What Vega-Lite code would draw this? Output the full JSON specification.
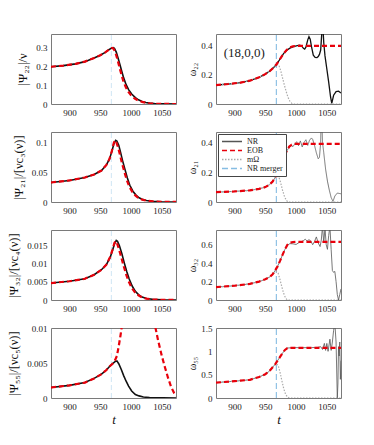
{
  "$schema": "https://vega.github.io/schema/vega-lite/v6.json",
  "background": "white",
  "padding": {"top": 33, "left": 7, "right": 28, "bottom": 20},
  "bounds": "flush",
  "columns": 2,
  "spacing": {"row": 28, "column": 40},
  "resolve": {"scale": {"color": "independent", "strokeDash": "independent"}, "legend": {"color": "independent", "strokeDash": "independent"}},
  "config": {
    "font": "Liberation Serif",
    "view": {"stroke": "#7a7a7a", "strokeWidth": 1},
    "axis": {"labelFont": "Liberation Serif", "labelFontSize": 9, "labelColor": "#222", "titleFont": "Liberation Serif", "titleFontWeight": "normal", "titleColor": "#111", "domain": false, "grid": false, "ticks": false, "labelPadding": 4, "labelOverlap": false, "labelFlush": false, "labelBound": false, "labelExpr": "'' + datum.value"}
  },
  "datasets": {
    "merger": [{"t": 968, "v": 0, "top": 100, "s": "NR merger"}],
    "ann": [{"t": 916, "v": 0.348, "label": "(18,0,0)"}],
    "A1": [
      {"s":"NR","t":870,"v":0.197},{"s":"NR","t":890,"v":0.203},{"s":"NR","t":910,"v":0.212},{"s":"NR","t":925,"v":0.224},{"s":"NR","t":940,"v":0.243},{"s":"NR","t":950,"v":0.258},{"s":"NR","t":958,"v":0.273},{"s":"NR","t":964,"v":0.287},{"s":"NR","t":968,"v":0.295},{"s":"NR","t":971,"v":0.298},{"s":"NR","t":973,"v":0.294},{"s":"NR","t":976,"v":0.274},{"s":"NR","t":979,"v":0.242},{"s":"NR","t":982,"v":0.207},{"s":"NR","t":985,"v":0.172},{"s":"NR","t":988,"v":0.138},{"s":"NR","t":992,"v":0.102},{"s":"NR","t":996,"v":0.076},{"s":"NR","t":1001,"v":0.053},{"s":"NR","t":1007,"v":0.034},{"s":"NR","t":1012,"v":0.022},{"s":"NR","t":1018,"v":0.013},{"s":"NR","t":1024,"v":0.008},{"s":"NR","t":1030,"v":0.0045},{"s":"NR","t":1040,"v":0.0017},{"s":"NR","t":1055,"v":0.0004},{"s":"NR","t":1073,"v":0},
      {"s":"EOB","t":870,"v":0.197},{"s":"EOB","t":890,"v":0.203},{"s":"EOB","t":910,"v":0.212},{"s":"EOB","t":925,"v":0.224},{"s":"EOB","t":940,"v":0.243},{"s":"EOB","t":950,"v":0.258},{"s":"EOB","t":958,"v":0.273},{"s":"EOB","t":964,"v":0.287},{"s":"EOB","t":968,"v":0.295},{"s":"EOB","t":970,"v":0.296},{"s":"EOB","t":972,"v":0.29},{"s":"EOB","t":975,"v":0.268},{"s":"EOB","t":978,"v":0.234},{"s":"EOB","t":981,"v":0.197},{"s":"EOB","t":984,"v":0.16},{"s":"EOB","t":987,"v":0.126},{"s":"EOB","t":991,"v":0.092},{"s":"EOB","t":995,"v":0.067},{"s":"EOB","t":1000,"v":0.046},{"s":"EOB","t":1006,"v":0.029},{"s":"EOB","t":1012,"v":0.018},{"s":"EOB","t":1018,"v":0.011},{"s":"EOB","t":1024,"v":0.0065},{"s":"EOB","t":1030,"v":0.0038},{"s":"EOB","t":1040,"v":0.0014},{"s":"EOB","t":1055,"v":0.0003},{"s":"EOB","t":1073,"v":0}
    ],
    "A2": [
      {"s":"NR","t":870,"v":0.13},{"s":"NR","t":890,"v":0.137},{"s":"NR","t":910,"v":0.147},{"s":"NR","t":925,"v":0.16},{"s":"NR","t":940,"v":0.183},{"s":"NR","t":950,"v":0.205},{"s":"NR","t":958,"v":0.228},{"s":"NR","t":964,"v":0.252},{"s":"NR","t":968,"v":0.27},{"s":"NR","t":972,"v":0.295},{"s":"NR","t":976,"v":0.322},{"s":"NR","t":980,"v":0.347},{"s":"NR","t":985,"v":0.368},{"s":"NR","t":990,"v":0.383},{"s":"NR","t":996,"v":0.394},{"s":"NR","t":1002,"v":0.401},{"s":"NR","t":1006,"v":0.404},{"s":"NR","t":1009,"v":0.398},{"s":"NR","t":1012,"v":0.382},{"s":"NR","t":1014,"v":0.376},{"s":"NR","t":1016,"v":0.39},{"s":"NR","t":1019,"v":0.44},{"s":"NR","t":1021,"v":0.462},{"s":"NR","t":1023,"v":0.445},{"s":"NR","t":1025,"v":0.395},{"s":"NR","t":1028,"v":0.335},{"s":"NR","t":1031,"v":0.32},{"s":"NR","t":1034,"v":0.318},{"s":"NR","t":1036,"v":0.325},{"s":"NR","t":1038,"v":0.34},{"s":"NR","t":1040,"v":0.37},{"s":"NR","t":1042,"v":0.5},{"s":"NR","t":1043,"v":0.6},{"s":"NR","t":1044,"v":0.5},{"s":"NR","t":1045,"v":0.42},{"s":"NR","t":1047,"v":0.33},{"s":"NR","t":1050,"v":0.24},{"s":"NR","t":1053,"v":0.15},{"s":"NR","t":1056,"v":0.05},{"s":"NR","t":1058,"v":0.005},{"s":"NR","t":1061,"v":0.06},{"s":"NR","t":1065,"v":0.085},{"s":"NR","t":1069,"v":0.088},{"s":"NR","t":1073,"v":0.075},
      {"s":"EOB","t":870,"v":0.13},{"s":"EOB","t":890,"v":0.137},{"s":"EOB","t":910,"v":0.147},{"s":"EOB","t":925,"v":0.16},{"s":"EOB","t":940,"v":0.183},{"s":"EOB","t":950,"v":0.205},{"s":"EOB","t":958,"v":0.228},{"s":"EOB","t":964,"v":0.252},{"s":"EOB","t":968,"v":0.27},{"s":"EOB","t":972,"v":0.295},{"s":"EOB","t":976,"v":0.322},{"s":"EOB","t":980,"v":0.347},{"s":"EOB","t":985,"v":0.372},{"s":"EOB","t":990,"v":0.388},{"s":"EOB","t":995,"v":0.396},{"s":"EOB","t":1000,"v":0.398},{"s":"EOB","t":1073,"v":0.398},
      {"s":"mΩ","t":870,"v":0.13},{"s":"mΩ","t":890,"v":0.137},{"s":"mΩ","t":910,"v":0.147},{"s":"mΩ","t":925,"v":0.16},{"s":"mΩ","t":940,"v":0.183},{"s":"mΩ","t":950,"v":0.205},{"s":"mΩ","t":958,"v":0.228},{"s":"mΩ","t":964,"v":0.252},{"s":"mΩ","t":968,"v":0.27},{"s":"mΩ","t":972,"v":0.268},{"s":"mΩ","t":975,"v":0.23},{"s":"mΩ","t":978,"v":0.18},{"s":"mΩ","t":981,"v":0.13},{"s":"mΩ","t":984,"v":0.085},{"s":"mΩ","t":987,"v":0.045},{"s":"mΩ","t":990,"v":0.02},{"s":"mΩ","t":993,"v":0.005},{"s":"mΩ","t":996,"v":0},{"s":"mΩ","t":1073,"v":0}
    ],
    "B1": [
      {"s":"NR","t":870,"v":0.0326},{"s":"NR","t":900,"v":0.036},{"s":"NR","t":925,"v":0.041},{"s":"NR","t":940,"v":0.046},{"s":"NR","t":952,"v":0.0526},{"s":"NR","t":960,"v":0.062},{"s":"NR","t":965,"v":0.072},{"s":"NR","t":969,"v":0.085},{"s":"NR","t":972,"v":0.097},{"s":"NR","t":975,"v":0.103},{"s":"NR","t":977,"v":0.102},{"s":"NR","t":980,"v":0.095},{"s":"NR","t":983,"v":0.083},{"s":"NR","t":986,"v":0.07},{"s":"NR","t":990,"v":0.055},{"s":"NR","t":994,"v":0.04},{"s":"NR","t":998,"v":0.028},{"s":"NR","t":1003,"v":0.018},{"s":"NR","t":1008,"v":0.0115},{"s":"NR","t":1013,"v":0.007},{"s":"NR","t":1018,"v":0.0045},{"s":"NR","t":1025,"v":0.0025},{"s":"NR","t":1035,"v":0.0011},{"s":"NR","t":1050,"v":0.0004},{"s":"NR","t":1073,"v":0.0001},
      {"s":"EOB","t":870,"v":0.0326},{"s":"EOB","t":900,"v":0.036},{"s":"EOB","t":925,"v":0.041},{"s":"EOB","t":940,"v":0.046},{"s":"EOB","t":952,"v":0.0526},{"s":"EOB","t":960,"v":0.062},{"s":"EOB","t":965,"v":0.072},{"s":"EOB","t":969,"v":0.086},{"s":"EOB","t":972,"v":0.099},{"s":"EOB","t":974,"v":0.103},{"s":"EOB","t":976,"v":0.1},{"s":"EOB","t":979,"v":0.091},{"s":"EOB","t":982,"v":0.079},{"s":"EOB","t":985,"v":0.066},{"s":"EOB","t":989,"v":0.051},{"s":"EOB","t":993,"v":0.037},{"s":"EOB","t":997,"v":0.026},{"s":"EOB","t":1002,"v":0.017},{"s":"EOB","t":1007,"v":0.011},{"s":"EOB","t":1012,"v":0.0067},{"s":"EOB","t":1018,"v":0.004},{"s":"EOB","t":1025,"v":0.0022},{"s":"EOB","t":1035,"v":0.001},{"s":"EOB","t":1050,"v":0.0004},{"s":"EOB","t":1073,"v":0.0001}
    ],
    "B2": [
      {"s":"NR","t":870,"v":0.066},{"s":"NR","t":900,"v":0.071},{"s":"NR","t":925,"v":0.078},{"s":"NR","t":940,"v":0.088},{"s":"NR","t":950,"v":0.1},{"s":"NR","t":957,"v":0.117},{"s":"NR","t":962,"v":0.138},{"s":"NR","t":966,"v":0.163},{"s":"NR","t":969,"v":0.188},{"s":"NR","t":972,"v":0.218},{"s":"NR","t":976,"v":0.262},{"s":"NR","t":980,"v":0.305},{"s":"NR","t":985,"v":0.343},{"s":"NR","t":989,"v":0.368},{"s":"NR","t":992,"v":0.38},{"s":"NR","t":995,"v":0.372},{"s":"NR","t":998,"v":0.39},{"s":"NR","t":1001,"v":0.405},{"s":"NR","t":1004,"v":0.378},{"s":"NR","t":1007,"v":0.41},{"s":"NR","t":1010,"v":0.37},{"s":"NR","t":1013,"v":0.4},{"s":"NR","t":1016,"v":0.418},{"s":"NR","t":1019,"v":0.38},{"s":"NR","t":1022,"v":0.415},{"s":"NR","t":1025,"v":0.43},{"s":"NR","t":1027,"v":0.42},{"s":"NR","t":1030,"v":0.38},{"s":"NR","t":1033,"v":0.33},{"s":"NR","t":1036,"v":0.29},{"s":"NR","t":1038,"v":0.3},{"s":"NR","t":1040,"v":0.4},{"s":"NR","t":1041,"v":0.6},{"s":"NR","t":1042,"v":0.55},{"s":"NR","t":1043,"v":0.4},{"s":"NR","t":1045,"v":0.33},{"s":"NR","t":1048,"v":0.22},{"s":"NR","t":1051,"v":0.14},{"s":"NR","t":1054,"v":0.08},{"s":"NR","t":1057,"v":0.03},{"s":"NR","t":1060,"v":0.004},{"s":"NR","t":1063,"v":0.04},{"s":"NR","t":1067,"v":0.06},{"s":"NR","t":1073,"v":0.055},
      {"s":"EOB","t":870,"v":0.066},{"s":"EOB","t":900,"v":0.071},{"s":"EOB","t":925,"v":0.078},{"s":"EOB","t":940,"v":0.088},{"s":"EOB","t":950,"v":0.1},{"s":"EOB","t":957,"v":0.117},{"s":"EOB","t":962,"v":0.138},{"s":"EOB","t":966,"v":0.163},{"s":"EOB","t":969,"v":0.188},{"s":"EOB","t":972,"v":0.218},{"s":"EOB","t":976,"v":0.262},{"s":"EOB","t":980,"v":0.305},{"s":"EOB","t":985,"v":0.343},{"s":"EOB","t":989,"v":0.372},{"s":"EOB","t":993,"v":0.385},{"s":"EOB","t":998,"v":0.39},{"s":"EOB","t":1073,"v":0.39},
      {"s":"mΩ","t":870,"v":0.066},{"s":"mΩ","t":900,"v":0.071},{"s":"mΩ","t":925,"v":0.078},{"s":"mΩ","t":940,"v":0.088},{"s":"mΩ","t":950,"v":0.1},{"s":"mΩ","t":957,"v":0.117},{"s":"mΩ","t":962,"v":0.138},{"s":"mΩ","t":966,"v":0.163},{"s":"mΩ","t":968,"v":0.172},{"s":"mΩ","t":972,"v":0.17},{"s":"mΩ","t":975,"v":0.13},{"s":"mΩ","t":978,"v":0.08},{"s":"mΩ","t":981,"v":0.04},{"s":"mΩ","t":984,"v":0.012},{"s":"mΩ","t":987,"v":0},{"s":"mΩ","t":1073,"v":0}
    ],
    "C1": [
      {"s":"NR","t":870,"v":0.0047},{"s":"NR","t":900,"v":0.0052},{"s":"NR","t":925,"v":0.0059},{"s":"NR","t":940,"v":0.007},{"s":"NR","t":952,"v":0.0084},{"s":"NR","t":960,"v":0.0098},{"s":"NR","t":966,"v":0.0118},{"s":"NR","t":970,"v":0.0138},{"s":"NR","t":973,"v":0.0155},{"s":"NR","t":976,"v":0.0165},{"s":"NR","t":978,"v":0.0163},{"s":"NR","t":981,"v":0.0151},{"s":"NR","t":985,"v":0.0129},{"s":"NR","t":989,"v":0.0103},{"s":"NR","t":993,"v":0.0079},{"s":"NR","t":997,"v":0.0058},{"s":"NR","t":1002,"v":0.0038},{"s":"NR","t":1007,"v":0.0024},{"s":"NR","t":1012,"v":0.0015},{"s":"NR","t":1018,"v":0.0008},{"s":"NR","t":1025,"v":0.0004},{"s":"NR","t":1035,"v":0.0002},{"s":"NR","t":1050,"v":0.00005},{"s":"NR","t":1073,"v":0},
      {"s":"EOB","t":870,"v":0.0047},{"s":"EOB","t":900,"v":0.0052},{"s":"EOB","t":925,"v":0.0059},{"s":"EOB","t":940,"v":0.007},{"s":"EOB","t":952,"v":0.0084},{"s":"EOB","t":960,"v":0.0098},{"s":"EOB","t":966,"v":0.0119},{"s":"EOB","t":970,"v":0.014},{"s":"EOB","t":973,"v":0.0158},{"s":"EOB","t":975,"v":0.0163},{"s":"EOB","t":977,"v":0.0158},{"s":"EOB","t":980,"v":0.0143},{"s":"EOB","t":984,"v":0.0119},{"s":"EOB","t":988,"v":0.0094},{"s":"EOB","t":992,"v":0.0071},{"s":"EOB","t":996,"v":0.0052},{"s":"EOB","t":1001,"v":0.0034},{"s":"EOB","t":1006,"v":0.0022},{"s":"EOB","t":1012,"v":0.0013},{"s":"EOB","t":1018,"v":0.0007},{"s":"EOB","t":1025,"v":0.0004},{"s":"EOB","t":1035,"v":0.00015},{"s":"EOB","t":1050,"v":0.00004},{"s":"EOB","t":1073,"v":0}
    ],
    "C2": [
      {"s":"NR","t":870,"v":0.14},{"s":"NR","t":900,"v":0.155},{"s":"NR","t":925,"v":0.175},{"s":"NR","t":940,"v":0.2},{"s":"NR","t":950,"v":0.225},{"s":"NR","t":957,"v":0.25},{"s":"NR","t":962,"v":0.28},{"s":"NR","t":966,"v":0.32},{"s":"NR","t":970,"v":0.365},{"s":"NR","t":974,"v":0.425},{"s":"NR","t":978,"v":0.49},{"s":"NR","t":982,"v":0.55},{"s":"NR","t":986,"v":0.595},{"s":"NR","t":990,"v":0.612},{"s":"NR","t":995,"v":0.61},{"s":"NR","t":1000,"v":0.603},{"s":"NR","t":1004,"v":0.62},{"s":"NR","t":1008,"v":0.632},{"s":"NR","t":1012,"v":0.645},{"s":"NR","t":1015,"v":0.66},{"s":"NR","t":1018,"v":0.64},{"s":"NR","t":1021,"v":0.655},{"s":"NR","t":1024,"v":0.64},{"s":"NR","t":1027,"v":0.6},{"s":"NR","t":1030,"v":0.635},{"s":"NR","t":1033,"v":0.685},{"s":"NR","t":1036,"v":0.62},{"s":"NR","t":1039,"v":0.58},{"s":"NR","t":1041,"v":0.65},{"s":"NR","t":1043,"v":0.8},{"s":"NR","t":1045,"v":0.62},{"s":"NR","t":1047,"v":0.78},{"s":"NR","t":1049,"v":0.6},{"s":"NR","t":1051,"v":0.55},{"s":"NR","t":1053,"v":0.7},{"s":"NR","t":1055,"v":0.8},{"s":"NR","t":1057,"v":0.55},{"s":"NR","t":1059,"v":0.32},{"s":"NR","t":1061,"v":0.3},{"s":"NR","t":1063,"v":0.31},{"s":"NR","t":1065,"v":0.2},{"s":"NR","t":1067,"v":0.06},{"s":"NR","t":1069,"v":0},{"s":"NR","t":1071,"v":0.06},{"s":"NR","t":1073,"v":0.12},
      {"s":"EOB","t":870,"v":0.14},{"s":"EOB","t":900,"v":0.155},{"s":"EOB","t":925,"v":0.175},{"s":"EOB","t":940,"v":0.2},{"s":"EOB","t":950,"v":0.225},{"s":"EOB","t":957,"v":0.25},{"s":"EOB","t":962,"v":0.28},{"s":"EOB","t":966,"v":0.32},{"s":"EOB","t":970,"v":0.365},{"s":"EOB","t":974,"v":0.425},{"s":"EOB","t":978,"v":0.49},{"s":"EOB","t":982,"v":0.55},{"s":"EOB","t":986,"v":0.6},{"s":"EOB","t":990,"v":0.622},{"s":"EOB","t":995,"v":0.63},{"s":"EOB","t":1000,"v":0.632},{"s":"EOB","t":1073,"v":0.632},
      {"s":"mΩ","t":870,"v":0.14},{"s":"mΩ","t":900,"v":0.155},{"s":"mΩ","t":925,"v":0.175},{"s":"mΩ","t":940,"v":0.2},{"s":"mΩ","t":950,"v":0.225},{"s":"mΩ","t":957,"v":0.25},{"s":"mΩ","t":962,"v":0.28},{"s":"mΩ","t":966,"v":0.3},{"s":"mΩ","t":968,"v":0.31},{"s":"mΩ","t":971,"v":0.29},{"s":"mΩ","t":974,"v":0.22},{"s":"mΩ","t":977,"v":0.14},{"s":"mΩ","t":980,"v":0.07},{"s":"mΩ","t":983,"v":0.02},{"s":"mΩ","t":986,"v":0},{"s":"mΩ","t":1073,"v":0}
    ],
    "D1": [
      {"s":"NR","t":870,"v":0.0015},{"s":"NR","t":900,"v":0.0018},{"s":"NR","t":925,"v":0.0022},{"s":"NR","t":940,"v":0.0028},{"s":"NR","t":952,"v":0.0034},{"s":"NR","t":960,"v":0.004},{"s":"NR","t":965,"v":0.0045},{"s":"NR","t":970,"v":0.0049},{"s":"NR","t":974,"v":0.0052},{"s":"NR","t":977,"v":0.0053},{"s":"NR","t":980,"v":0.0049},{"s":"NR","t":984,"v":0.0041},{"s":"NR","t":988,"v":0.0032},{"s":"NR","t":992,"v":0.0024},{"s":"NR","t":996,"v":0.0017},{"s":"NR","t":1001,"v":0.001},{"s":"NR","t":1007,"v":0.0005},{"s":"NR","t":1013,"v":0.0003},{"s":"NR","t":1020,"v":0.00015},{"s":"NR","t":1030,"v":0.00005},{"s":"NR","t":1073,"v":0},
      {"s":"EOB","t":870,"v":0.0015},{"s":"EOB","t":900,"v":0.0018},{"s":"EOB","t":925,"v":0.0022},{"s":"EOB","t":940,"v":0.0028},{"s":"EOB","t":952,"v":0.0034},{"s":"EOB","t":960,"v":0.004},{"s":"EOB","t":965,"v":0.0045},{"s":"EOB","t":970,"v":0.0049},{"s":"EOB","t":974,"v":0.0054},{"s":"EOB","t":977,"v":0.006},{"s":"EOB","t":980,"v":0.0074},{"s":"EOB","t":983,"v":0.009},{"s":"EOB","t":985,"v":0.0102},{"s":"EOB","t":990,"v":0.014},{"s":"EOB","t":1000,"v":0.02},{"s":"EOB","t":1015,"v":0.024},{"s":"EOB","t":1028,"v":0.018},{"s":"EOB","t":1035,"v":0.013},{"s":"EOB","t":1039,"v":0.0103},{"s":"EOB","t":1044,"v":0.0082},{"s":"EOB","t":1050,"v":0.006},{"s":"EOB","t":1055,"v":0.0044},{"s":"EOB","t":1060,"v":0.0029},{"s":"EOB","t":1065,"v":0.0016},{"s":"EOB","t":1070,"v":0.0007},{"s":"EOB","t":1073,"v":0.0003}
    ],
    "D2": [
      {"s":"NR","t":870,"v":0.33},{"s":"NR","t":900,"v":0.36},{"s":"NR","t":925,"v":0.39},{"s":"NR","t":940,"v":0.45},{"s":"NR","t":950,"v":0.51},{"s":"NR","t":957,"v":0.58},{"s":"NR","t":962,"v":0.66},{"s":"NR","t":966,"v":0.72},{"s":"NR","t":970,"v":0.8},{"s":"NR","t":974,"v":0.88},{"s":"NR","t":978,"v":0.96},{"s":"NR","t":982,"v":1.03},{"s":"NR","t":986,"v":1.07},{"s":"NR","t":995,"v":1.08},{"s":"NR","t":1010,"v":1.078},{"s":"NR","t":1025,"v":1.08},{"s":"NR","t":1035,"v":1.085},{"s":"NR","t":1040,"v":1.1},{"s":"NR","t":1043,"v":1.04},{"s":"NR","t":1046,"v":1.17},{"s":"NR","t":1048,"v":1.02},{"s":"NR","t":1050,"v":1.17},{"s":"NR","t":1052,"v":1.0},{"s":"NR","t":1055,"v":1.26},{"s":"NR","t":1057,"v":1.02},{"s":"NR","t":1059,"v":1.2},{"s":"NR","t":1061,"v":1.45},{"s":"NR","t":1063,"v":1.6},{"s":"NR","t":1065,"v":1.2},{"s":"NR","t":1066,"v":0.6},{"s":"NR","t":1067,"v":0},{"s":"NR","t":1068,"v":0.3},{"s":"NR","t":1069,"v":1.1},{"s":"NR","t":1070,"v":0.9},{"s":"NR","t":1071,"v":1.2},{"s":"NR","t":1072,"v":0.4},{"s":"NR","t":1073,"v":0.8},
      {"s":"EOB","t":870,"v":0.33},{"s":"EOB","t":900,"v":0.36},{"s":"EOB","t":925,"v":0.39},{"s":"EOB","t":940,"v":0.45},{"s":"EOB","t":950,"v":0.51},{"s":"EOB","t":957,"v":0.58},{"s":"EOB","t":962,"v":0.66},{"s":"EOB","t":966,"v":0.72},{"s":"EOB","t":970,"v":0.8},{"s":"EOB","t":974,"v":0.88},{"s":"EOB","t":978,"v":0.96},{"s":"EOB","t":982,"v":1.03},{"s":"EOB","t":986,"v":1.07},{"s":"EOB","t":990,"v":1.075},{"s":"EOB","t":1073,"v":1.075},
      {"s":"mΩ","t":870,"v":0.33},{"s":"mΩ","t":900,"v":0.36},{"s":"mΩ","t":925,"v":0.39},{"s":"mΩ","t":940,"v":0.45},{"s":"mΩ","t":950,"v":0.51},{"s":"mΩ","t":957,"v":0.58},{"s":"mΩ","t":962,"v":0.66},{"s":"mΩ","t":966,"v":0.72},{"s":"mΩ","t":968,"v":0.73},{"s":"mΩ","t":971,"v":0.7},{"s":"mΩ","t":974,"v":0.55},{"s":"mΩ","t":977,"v":0.37},{"s":"mΩ","t":980,"v":0.2},{"s":"mΩ","t":983,"v":0.08},{"s":"mΩ","t":986,"v":0.02},{"s":"mΩ","t":989,"v":0},{"s":"mΩ","t":1073,"v":0}
    ]
  },
  "concat": [
    {
      "width": 125, "height": 70, "data": {"name": "A1"},
      "encoding": {
        "x": {"field": "t", "type": "quantitative", "scale": {"domain": [870, 1073], "nice": false, "zero": false}, "axis": {"values": [900, 950, 1000, 1050], "title": null}},
        "y": {"field": "v", "type": "quantitative", "scale": {"domain": [0, 0.37], "nice": false}, "axis": {"values": [0, 0.1, 0.2, 0.3], "labelOverlap": false, "title": "|Ψ₂₂|/ν", "titleFontSize": 12.5, "titlePadding": 6}}
      },
      "layer": [
        {"data": {"name": "merger"}, "mark": {"type": "rule", "color": "#cfe5f4", "strokeDash": [5, 3], "strokeWidth": 1, "clip": true}, "encoding": {"y2": {"field": "top"}}},
        {"transform": [{"filter": "datum.s === 'NR'"}], "mark": {"type": "line", "color": "#111111", "strokeWidth": 1.6, "clip": true}},
        {"transform": [{"filter": "datum.s === 'EOB'"}], "mark": {"type": "line", "color": "#e8000b", "strokeWidth": 2.2, "strokeDash": [5, 3], "clip": true}}
      ]
    },
    {
      "width": 125, "height": 70, "data": {"name": "A2"},
      "encoding": {
        "x": {"field": "t", "type": "quantitative", "scale": {"domain": [870, 1073], "nice": false, "zero": false}, "axis": {"values": [900, 950, 1000, 1050], "title": null}},
        "y": {"field": "v", "type": "quantitative", "scale": {"domain": [0, 0.48], "nice": false}, "axis": {"values": [0, 0.2, 0.4], "labelOverlap": false, "title": "ω₂₂", "titleFontSize": 10, "titlePadding": 3}}
      },
      "layer": [
        {"data": {"name": "merger"}, "mark": {"type": "rule", "color": "#86bde3", "strokeDash": [6, 3], "strokeWidth": 1.1, "clip": true}, "encoding": {"y2": {"field": "top"}}},
        {"transform": [{"filter": "datum.s === 'NR'"}], "mark": {"type": "line", "color": "#111111", "strokeWidth": 1.3, "clip": true}},
        {"transform": [{"filter": "datum.s === 'mΩ'"}], "mark": {"type": "line", "color": "#aaaaaa", "strokeWidth": 1.2, "strokeDash": [1.5, 1.5], "clip": true}},
        {"transform": [{"filter": "datum.s === 'EOB'"}], "mark": {"type": "line", "color": "#e8000b", "strokeWidth": 2.2, "strokeDash": [5, 3], "clip": true}},
        {"data": {"name": "ann"}, "mark": {"type": "text", "fontSize": 13, "font": "Liberation Serif", "color": "#222"}, "encoding": {"text": {"field": "label"}}}
      ]
    },
    {
      "width": 125, "height": 70, "data": {"name": "B1"},
      "encoding": {
        "x": {"field": "t", "type": "quantitative", "scale": {"domain": [870, 1073], "nice": false, "zero": false}, "axis": {"values": [900, 950, 1000, 1050], "title": null}},
        "y": {"field": "v", "type": "quantitative", "scale": {"domain": [0, 0.117], "nice": false}, "axis": {"values": [0, 0.05, 0.1], "labelOverlap": false, "title": "|Ψ₂₁|/[νc₃(ν)]", "titleFontSize": 12.5, "titlePadding": 6}}
      },
      "layer": [
        {"data": {"name": "merger"}, "mark": {"type": "rule", "color": "#cfe5f4", "strokeDash": [5, 3], "strokeWidth": 1, "clip": true}, "encoding": {"y2": {"field": "top"}}},
        {"transform": [{"filter": "datum.s === 'NR'"}], "mark": {"type": "line", "color": "#111111", "strokeWidth": 1.6, "clip": true}},
        {"transform": [{"filter": "datum.s === 'EOB'"}], "mark": {"type": "line", "color": "#e8000b", "strokeWidth": 2.2, "strokeDash": [5, 3], "clip": true}}
      ]
    },
    {
      "width": 125, "height": 70, "data": {"name": "B2"},
      "encoding": {
        "x": {"field": "t", "type": "quantitative", "scale": {"domain": [870, 1073], "nice": false, "zero": false}, "axis": {"values": [900, 950, 1000, 1050], "title": null}},
        "y": {"field": "v", "type": "quantitative", "scale": {"domain": [0, 0.47], "nice": false}, "axis": {"values": [0, 0.2, 0.4], "labelOverlap": false, "title": "ω₂₁", "titleFontSize": 10, "titlePadding": 3}},
        "color": {"field": "s", "type": "nominal", "scale": {"domain": ["NR", "EOB", "mΩ", "NR merger"], "range": ["#555555", "#e8000b", "#aaaaaa", "#86bde3"]}, "legend": {"title": null, "orient": "top-left", "offset": 2, "padding": 3, "fillColor": "white", "strokeColor": "#444444", "labelFont": "Liberation Serif", "labelFontSize": 8, "labelColor": "#222", "symbolType": "stroke", "symbolSize": 400, "symbolStrokeWidth": 1.5, "rowPadding": 0, "clipHeight": 9, "labelOffset": 4}},
        "strokeDash": {"field": "s", "type": "nominal", "scale": {"domain": ["NR", "EOB", "mΩ", "NR merger"], "range": [[1, 0], [5, 3], [1.5, 1.5], [6, 3]]}, "legend": {"title": null, "orient": "top-left", "offset": 2, "padding": 3, "fillColor": "white", "strokeColor": "#444444", "labelFont": "Liberation Serif", "labelFontSize": 8, "labelColor": "#222", "symbolType": "stroke", "symbolSize": 400, "symbolStrokeWidth": 1.5, "rowPadding": 0, "clipHeight": 9, "labelOffset": 4}}
      },
      "layer": [
        {"data": {"name": "merger"}, "mark": {"type": "rule", "strokeWidth": 1.1, "clip": true}, "encoding": {"y2": {"field": "top"}}},
        {"transform": [{"filter": "datum.s === 'NR'"}], "mark": {"type": "line", "strokeWidth": 0.8, "clip": true}},
        {"transform": [{"filter": "datum.s === 'mΩ'"}], "mark": {"type": "line", "strokeWidth": 1.2, "clip": true}},
        {"transform": [{"filter": "datum.s === 'EOB'"}], "mark": {"type": "line", "strokeWidth": 2.2, "clip": true}}
      ]
    },
    {
      "width": 125, "height": 70, "data": {"name": "C1"},
      "encoding": {
        "x": {"field": "t", "type": "quantitative", "scale": {"domain": [870, 1073], "nice": false, "zero": false}, "axis": {"values": [900, 950, 1000, 1050], "title": null}},
        "y": {"field": "v", "type": "quantitative", "scale": {"domain": [0, 0.0194], "nice": false}, "axis": {"values": [0, 0.005, 0.01, 0.015], "labelOverlap": false, "title": "|Ψ₃₂|/[νc₄(ν)]", "titleFontSize": 12.5, "titlePadding": 6}}
      },
      "layer": [
        {"data": {"name": "merger"}, "mark": {"type": "rule", "color": "#cfe5f4", "strokeDash": [5, 3], "strokeWidth": 1, "clip": true}, "encoding": {"y2": {"field": "top"}}},
        {"transform": [{"filter": "datum.s === 'NR'"}], "mark": {"type": "line", "color": "#111111", "strokeWidth": 1.6, "clip": true}},
        {"transform": [{"filter": "datum.s === 'EOB'"}], "mark": {"type": "line", "color": "#e8000b", "strokeWidth": 2.2, "strokeDash": [5, 3], "clip": true}}
      ]
    },
    {
      "width": 125, "height": 70, "data": {"name": "C2"},
      "encoding": {
        "x": {"field": "t", "type": "quantitative", "scale": {"domain": [870, 1073], "nice": false, "zero": false}, "axis": {"values": [900, 950, 1000, 1050], "title": null}},
        "y": {"field": "v", "type": "quantitative", "scale": {"domain": [0, 0.76], "nice": false}, "axis": {"values": [0, 0.2, 0.4, 0.6], "labelOverlap": false, "title": "ω₃₂", "titleFontSize": 10, "titlePadding": 3}}
      },
      "layer": [
        {"data": {"name": "merger"}, "mark": {"type": "rule", "color": "#86bde3", "strokeDash": [6, 3], "strokeWidth": 1.1, "clip": true}, "encoding": {"y2": {"field": "top"}}},
        {"transform": [{"filter": "datum.s === 'NR'"}], "mark": {"type": "line", "color": "#555555", "strokeWidth": 0.8, "clip": true}},
        {"transform": [{"filter": "datum.s === 'mΩ'"}], "mark": {"type": "line", "color": "#aaaaaa", "strokeWidth": 1.2, "strokeDash": [1.5, 1.5], "clip": true}},
        {"transform": [{"filter": "datum.s === 'EOB'"}], "mark": {"type": "line", "color": "#e8000b", "strokeWidth": 2.2, "strokeDash": [5, 3], "clip": true}}
      ]
    },
    {
      "width": 125, "height": 70, "data": {"name": "D1"},
      "encoding": {
        "x": {"field": "t", "type": "quantitative", "scale": {"domain": [870, 1073], "nice": false, "zero": false}, "axis": {"values": [900, 950, 1000, 1050], "title": "t", "titleFontStyle": "italic", "titleFontSize": 13, "titlePadding": 2}},
        "y": {"field": "v", "type": "quantitative", "scale": {"domain": [0, 0.01], "nice": false}, "axis": {"values": [0, 0.005, 0.01], "labelOverlap": false, "title": "|Ψ₅₅|/[νc₅(ν)]", "titleFontSize": 12.5, "titlePadding": 6}}
      },
      "layer": [
        {"data": {"name": "merger"}, "mark": {"type": "rule", "color": "#cfe5f4", "strokeDash": [5, 3], "strokeWidth": 1, "clip": true}, "encoding": {"y2": {"field": "top"}}},
        {"transform": [{"filter": "datum.s === 'NR'"}], "mark": {"type": "line", "color": "#111111", "strokeWidth": 1.6, "clip": true}},
        {"transform": [{"filter": "datum.s === 'EOB'"}], "mark": {"type": "line", "color": "#e8000b", "strokeWidth": 2.2, "strokeDash": [5, 3], "clip": true}}
      ]
    },
    {
      "width": 125, "height": 70, "data": {"name": "D2"},
      "encoding": {
        "x": {"field": "t", "type": "quantitative", "scale": {"domain": [870, 1073], "nice": false, "zero": false}, "axis": {"values": [900, 950, 1000, 1050], "title": "t", "titleFontStyle": "italic", "titleFontSize": 13, "titlePadding": 2}},
        "y": {"field": "v", "type": "quantitative", "scale": {"domain": [0, 1.5], "nice": false}, "axis": {"values": [0, 0.5, 1, 1.5], "labelOverlap": false, "title": "ω₅₅", "titleFontSize": 10, "titlePadding": 3}}
      },
      "layer": [
        {"data": {"name": "merger"}, "mark": {"type": "rule", "color": "#86bde3", "strokeDash": [6, 3], "strokeWidth": 1.1, "clip": true}, "encoding": {"y2": {"field": "top"}}},
        {"transform": [{"filter": "datum.s === 'NR'"}], "mark": {"type": "line", "color": "#555555", "strokeWidth": 0.8, "clip": true}},
        {"transform": [{"filter": "datum.s === 'mΩ'"}], "mark": {"type": "line", "color": "#aaaaaa", "strokeWidth": 1.2, "strokeDash": [1.5, 1.5], "clip": true}},
        {"transform": [{"filter": "datum.s === 'EOB'"}], "mark": {"type": "line", "color": "#e8000b", "strokeWidth": 2.2, "strokeDash": [5, 3], "clip": true}}
      ]
    }
  ]
}
